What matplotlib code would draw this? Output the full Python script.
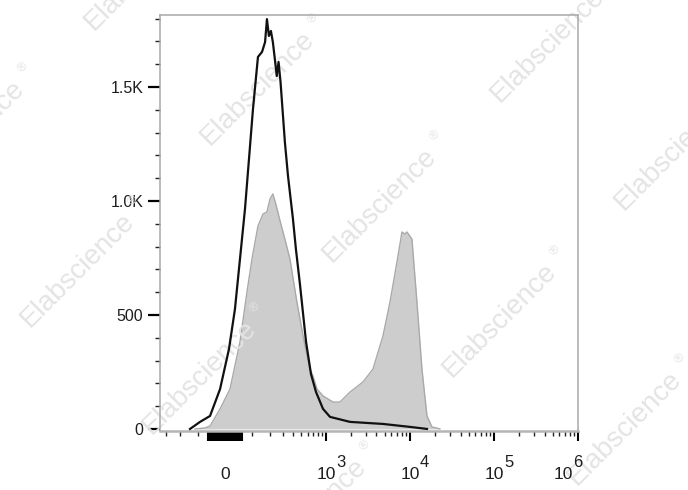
import numpy as np
import matplotlib
matplotlib.use("Agg")
import matplotlib.pyplot as plt
from matplotlib.ticker import FixedLocator, FixedFormatter, NullFormatter
import matplotlib.transforms as mtrans

plt.rcParams['font.family'] = ['Liberation Sans', 'DejaVu Sans']

# ---------------- data ----------------
# stained sample (grey filled histogram): fluorescence value, event count
FILLED_X = [-116, -73, -53, -17, 17.3, 53.3, 80.6, 102, 130, 156.5, 179, 198, 217, 238,
            267, 313, 363, 443, 545, 640, 697, 779, 920, 1212, 1469, 1934, 2763, 3635,
            4780, 5792, 7010, 8040, 8730, 9220, 10570, 12120, 13900, 15950, 18290, 22770]
FILLED_Y = [0, 4, 13, 88, 175, 382, 601, 746, 890, 943, 952, 1009, 1031, 987,
            921, 833, 746, 557, 382, 263, 232, 175, 145, 118, 118, 162, 206, 263,
            408, 557, 732, 864, 855, 864, 833, 557, 263, 57, 9, 0]

# control (black outline histogram)
CONTROL_X = [-140, -93, -53, -17, 13.9, 34.9, 53.3, 72.6, 89, 106.5, 130, 151, 168, 179,
             191, 204, 217, 231, 245, 259, 275, 313, 343, 396, 431, 483, 574, 659, 758,
             920, 1116, 1934, 4780, 10010, 15950]
CONTROL_Y = [0, 31, 57, 175, 351, 526, 746, 965, 1184, 1404, 1632, 1654, 1697, 1798,
             1724, 1746, 1697, 1623, 1548, 1610, 1522, 1259, 1110, 921, 789, 636, 382, 241, 162,
             88, 53, 31, 22, 9, 0]

Y_TICKS = [0, 500, 1000, 1500]
Y_TICK_LABELS = ["0", "500", "1.0K", "1.5K"]
Y_MINOR = [v for v in range(100, 1900, 100) if v not in Y_TICKS]
X_DECADES = [3, 4, 5, 6]
X_NEAR_ZERO = [v for v in range(-60, 65, 5) if v != 0]
X_MINOR = [-300, -200, -100] + [m * 10 ** d for d in range(2, 6) for m in range(1, 10)]
X_MINOR = [v for v in X_MINOR if v not in (1e3, 1e4, 1e5)]
WATERMARK = "Elabscience"

# ---------------- scale ----------------
C = 126.0


def fwd(x):
    return np.arcsinh(np.asarray(x, dtype=float) / C)


def inv(u):
    return C * np.sinh(np.asarray(u, dtype=float))


W, H = 688, 490
fig = plt.figure(figsize=(W / 100, H / 100), dpi=100)
ax = fig.add_axes([160 / W, 59 / H, 418 / W, 416 / H])
ax.set_xscale('function', functions=(fwd, inv))

ax.fill_between(FILLED_X, FILLED_Y, 0, color='#cdcdcd', lw=0, zorder=1)
ax.plot(FILLED_X, FILLED_Y, color='#a9a9a9', lw=1.0, zorder=1.2)
ax.plot(CONTROL_X, CONTROL_Y, color='#111111', lw=1.6, zorder=3)

ax.set_xlim(-363, 1e6)
ax.set_ylim(-9, 1816)

# spines
for s in ['top', 'right', 'left']:
    ax.spines[s].set_color('#a8a8a8')
    ax.spines[s].set_linewidth(1.1)
ax.spines['bottom'].set_color('#b4b4b4')
ax.spines['bottom'].set_linewidth(1.8)

# y ticks
ax.yaxis.set_major_locator(FixedLocator(Y_TICKS))
ax.yaxis.set_major_formatter(FixedFormatter(Y_TICK_LABELS))
ax.yaxis.set_minor_locator(FixedLocator(Y_MINOR))
ax.tick_params(axis='y', which='major', length=9, width=1.6, color='black',
               pad=3, labelsize=11.5, labelcolor='#1e1e1e')
ax.tick_params(axis='y', which='minor', length=3.5, width=1.0, color='#222222')

# x ticks
x_major = X_NEAR_ZERO + [0] + [10.0 ** d for d in X_DECADES]
ax.xaxis.set_major_locator(FixedLocator(sorted(x_major)))
ax.xaxis.set_major_formatter(NullFormatter())
ax.xaxis.set_minor_locator(FixedLocator(X_MINOR))
ax.xaxis.set_minor_formatter(NullFormatter())
ax.tick_params(axis='x', which='major', length=7.5, width=1.5, color='black')
ax.tick_params(axis='x', which='minor', length=3.8, width=1.0, color='#222222')

# x tick labels (0, 10^3 ... 10^6)
xt = ax.get_xaxis_transform()
label_y = -0.105
ax.text(0, label_y, "0", transform=xt, ha='center', va='center', fontsize=12.5,
        color='#1e1e1e', clip_on=False)
for i, d in enumerate(X_DECADES):
    shift = -15 if i == len(X_DECADES) - 1 else 0
    t_base = mtrans.offset_copy(xt, fig=fig, x=shift, y=0, units='dots')
    ax.text(10.0 ** d, label_y, "10", transform=t_base, ha='center', va='center',
            fontsize=12.5, color='#1e1e1e', clip_on=False)
    t_exp = mtrans.offset_copy(xt, fig=fig, x=shift + 10, y=12, units='dots')
    ax.text(10.0 ** d, label_y, str(d), transform=t_exp, ha='left', va='center',
            fontsize=12, color='#1e1e1e', clip_on=False)

# watermarks
WM_CENTERS = [(142, -27), (-32, 137), (258, 88), (548, 45), (380, 205), (672, 153),
              (78, 270), (500, 320), (200, 377), (310, 515), (625, 428)]
dirx, diry = 0.7071, -0.7071
for cx, cy in WM_CENTERS:
    ax.text(cx / W, 1 - cy / H, WATERMARK, transform=fig.transFigure, rotation=45,
            rotation_mode='anchor', ha='center', va='center', fontsize=20,
            color='#e4e4e4', zorder=2, clip_on=False)
    rx = cx + 88 * dirx - 10 * 0.7071
    ry = cy + 88 * diry - 10 * 0.7071
    ax.text(rx / W, 1 - ry / H, "\u00ae", transform=fig.transFigure, rotation=45,
            rotation_mode='anchor', ha='center', va='center', fontsize=9,
            color='#e4e4e4', zorder=2, clip_on=False)

fig.savefig("out.png", dpi=100)
